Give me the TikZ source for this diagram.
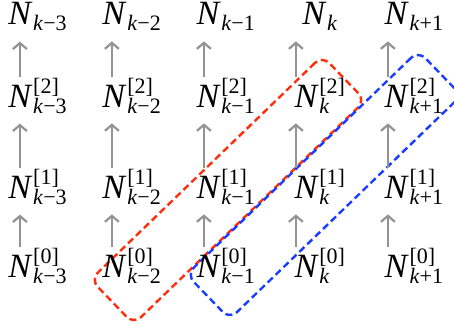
\documentclass[tikz,border=0pt]{standalone}
\usepackage{fontspec}
\setmainfont{Liberation Serif}
\usetikzlibrary{arrows.meta}

\newcommand{\idxfont}{\fontsize{11}{11}\selectfont}
% N with upper index [#1] and lower index #2
\newcommand{\Nsym}[2]{\textit{N}\kern0.3pt\setbox0=\hbox{\raisebox{7pt}{\idxfont[#1]}}%
  \setbox2=\hbox{\raisebox{-3pt}{\idxfont #2}}%
  \ifdim\wd0>\wd2 \rlap{\box2}\box0 \else\rlap{\box0}\box2 \fi}
\newcommand{\Ntop}[1]{\textit{N}\kern0.3pt\raisebox{-3pt}{\idxfont #1}}
\definecolor{grpred}{RGB}{255,45,10}
\definecolor{grpblue}{RGB}{25,60,255}

\begin{document}
\begin{tikzpicture}[x=0.5pt,y=-0.5pt,
  lab/.style={inner sep=0pt,anchor=base,font=\fontsize{17}{17}\selectfont},
  up/.style={draw=gray!85,line width=1.1pt,-{Straight Barb[length=3pt,width=7pt]},shorten >=5pt},
  grp/.style={draw,line width=1.2pt,dash pattern=on 3.5pt off 2pt,rounded corners=5pt,
    minimum width=161pt,minimum height=31pt,rotate=44,inner sep=0pt}]
\useasboundingbox (0,0) rectangle (454,326);

% dashed groups
\node[grp,draw=grpred] (redgrp) at (228,190) {};
\node[grp,draw=grpblue] (bluegrp) at (324,185) {};

% columns k-3 ... k+1
\foreach \i/\s in {0/{\textit{k}−3},1/{\textit{k}−2},2/{\textit{k}−1},3/{\textit{k}},4/{\textit{k}+1}}{
  \node[lab] (t\i) at (37.5+94.1*\i,25) {\Ntop{\s}};
  \node[lab] (r2\i) at (37.5+94.1*\i,107) {\Nsym{2}{\s}};
  \node[lab] (r1\i) at (37.5+94.1*\i,198) {\Nsym{1}{\s}};
  \node[lab] (r0\i) at (37.5+94.1*\i,277) {\Nsym{0}{\s}};
  \draw[up] ([xshift={-8.8pt-\i*1.05pt}]r0\i.north) -- ([xshift={-8.8pt-\i*1.05pt}]r1\i.south);
  \draw[up] ([xshift={-8.8pt-\i*1.05pt}]r1\i.north) -- ([xshift={-8.8pt-\i*1.05pt}]r2\i.south);
  \draw[up] ([xshift={-8.8pt-\i*1.05pt}]r2\i.north) -- ([xshift={-8.8pt-\i*1.05pt}]t\i.south);
}
\end{tikzpicture}
\end{document}
